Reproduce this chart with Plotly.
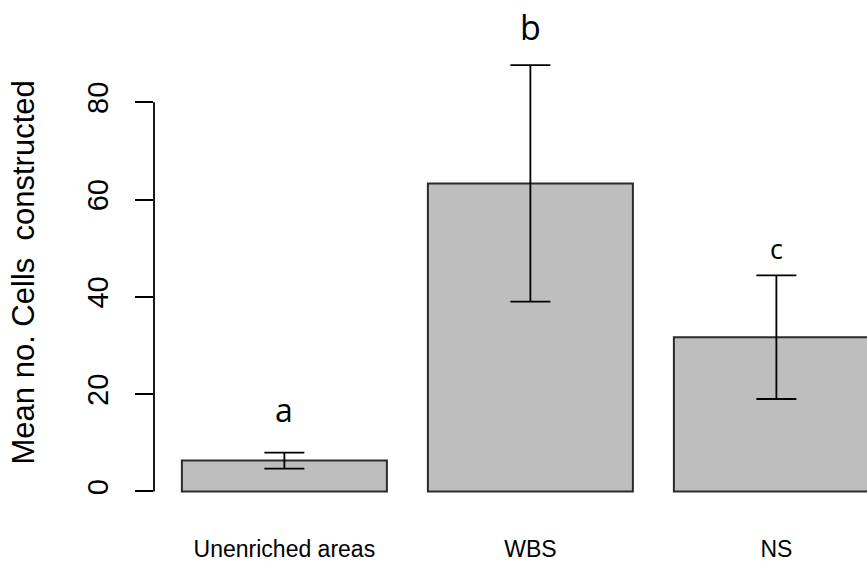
import plotly.graph_objects as go

# Data
categories = ["Unenriched areas", "WBS", "NS"]
means = [6.35, 63.3, 31.7]
errors = [1.65, 24.3, 12.7]
group_letters = ["a", "b", "c"]
letter_y = [16.8, 95.5, 50.0]
letter_sizes = [32, 34, 27]
y_ticks = [0, 20, 40, 60, 80]

# Bar centres as in an R barplot (width 1, space 0.2)
x_pos = [0.7 + 1.2 * i for i in range(len(categories))]
y_range = [-3.6, 93.6]

W, H = 867, 563
fig = go.Figure()

fig.add_trace(go.Bar(
    x=x_pos, y=means, width=1.0,
    marker=dict(color="#BEBEBE", line=dict(color="#2b2b2b", width=2)),
    error_y=dict(type="data", array=errors, visible=True,
                 color="#000000", thickness=1.8, width=20),
    showlegend=False, hoverinfo="skip",
))

# significance letters (placed in paper space so they may sit above the plot area)
for xp, lt, ly, fs in zip(x_pos, group_letters, letter_y, letter_sizes):
    y_paper = (ly - y_range[0]) / (y_range[1] - y_range[0])
    fig.add_annotation(x=xp, y=y_paper, xref="x", yref="paper", text=lt,
                       showarrow=False, xanchor="center", yanchor="middle",
                       font=dict(family="Open Sans, Noto Sans, sans-serif",
                                 size=fs, color="#000000"))

# y-axis line spanning only the tick range
fig.add_shape(type="line", xref="paper", yref="y", x0=0, x1=0,
              y0=min(y_ticks), y1=max(y_ticks),
              line=dict(color="#000000", width=1.8))

# y-axis title
fig.add_annotation(x=0, y=0.5, xref="paper", yref="paper",
                   text="Mean no. Cells  constructed", textangle=-90,
                   showarrow=False, xanchor="center", yanchor="middle",
                   xshift=-131,
                   font=dict(family="Liberation Sans, Arial, sans-serif",
                             size=31, color="#000000"))

fig.update_layout(
    width=W, height=H,
    margin=dict(l=154, r=0, t=36, b=54),
    plot_bgcolor="#FFFFFF", paper_bgcolor="#FFFFFF",
    xaxis=dict(range=[0.064, 0.064 + 713 / 205.0], automargin=False,
               tickvals=x_pos, ticktext=categories, ticks="",
               showline=False, showgrid=False, zeroline=False,
               ticklabelstandoff=24,
               tickfont=dict(family="Liberation Sans, Arial, sans-serif",
                             size=23, color="#000000")),
    yaxis=dict(range=y_range, tickvals=y_ticks, automargin=False,
               ticktext=[str(v) for v in y_ticks],
               ticks="outside", ticklen=18, tickwidth=1.8, tickcolor="#000000",
               tickangle=-90, ticklabelstandoff=15,
               showline=False, showgrid=False, zeroline=False,
               tickfont=dict(family="Liberation Sans, Arial, sans-serif",
                             size=29, color="#000000")),
)

fig.write_html("out.html")
